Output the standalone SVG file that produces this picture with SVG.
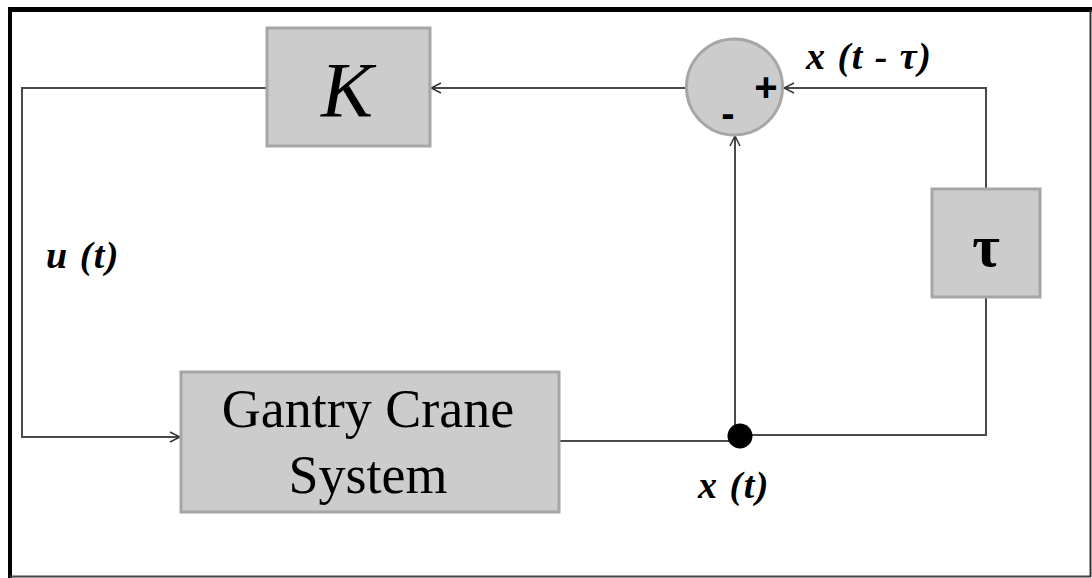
<svg xmlns="http://www.w3.org/2000/svg" width="1092" height="578" viewBox="0 0 1092 578">
<style>
.box{fill:#cccccc;stroke:#a6a6a6;stroke-width:3}
.wire{fill:none;stroke:#4a4a4a;stroke-width:2}
.lbl{font-family:"Liberation Serif",serif;font-style:italic;font-weight:bold;fill:#000;letter-spacing:1.5px}
.ser{font-family:"Liberation Serif",serif;fill:#000}
.sgn{font-family:"Liberation Sans",sans-serif;font-weight:bold;fill:#000}
</style>
<defs>
<marker id="arr" viewBox="0 0 12 12" refX="11" refY="6" markerWidth="12" markerHeight="12" markerUnits="userSpaceOnUse" orient="auto">
<path d="M1,1 L11,6 L1,11" fill="none" stroke="#333" stroke-width="1.5"/>
</marker>
</defs>
<rect x="0" y="0" width="1092" height="578" fill="#fff"/>
<g id="frame">
<rect x="8" y="7" width="1084" height="5" fill="#000"/>
<rect x="8" y="7" width="4" height="571" fill="#000"/>
<line x1="1090.5" y1="10" x2="1090.5" y2="577" stroke="#333" stroke-width="2"/>
<line x1="10" y1="576.5" x2="1091" y2="576.5" stroke="#444" stroke-width="2"/>
</g>
<g id="connectors">
<path class="wire" d="M267,88 H22 V437 H180" marker-end="url(#arr)"/>
<path class="wire" d="M686,88 H431" marker-end="url(#arr)"/>
<path class="wire" d="M986,189 V88 H784" marker-end="url(#arr)"/>
<path class="wire" d="M986,297 V435 H740"/>
<path class="wire" d="M559,441 H735"/>
<path class="wire" d="M735,436 V136" marker-end="url(#arr)"/>
</g>
<g id="node-K">
<rect class="box" x="267" y="28" width="163" height="118"/>
<text class="ser" x="347" y="116" font-size="78" font-style="italic" text-anchor="middle">K</text>
</g>
<g id="node-sum">
<circle cx="734.5" cy="87" r="48" fill="#cccccc" stroke="#a6a6a6" stroke-width="3"/>
<text class="sgn" x="766" y="101" font-size="40" text-anchor="middle">+</text>
<text class="sgn" x="728" y="127" font-size="40" text-anchor="middle">-</text>
</g>
<g id="node-tau">
<rect class="box" x="932" y="189" width="108" height="108"/>
<text class="ser" x="986" y="266" font-size="60" font-weight="bold" text-anchor="middle">τ</text>
</g>
<g id="node-plant">
<rect class="box" x="181" y="372" width="378" height="140"/>
<text class="ser" x="368" y="427" font-size="54" text-anchor="middle">Gantry Crane</text>
<text class="ser" x="368" y="493" font-size="54" text-anchor="middle">System</text>
</g>
<g id="node-junction">
<circle cx="740" cy="436" r="12.5" fill="#000"/>
</g>
<g id="labels">
<text class="lbl" x="806" y="69" font-size="38">x (t - τ)</text>
<text class="lbl" x="46" y="268" font-size="38">u (t)</text>
<text class="lbl" x="698" y="498" font-size="38">x (t)</text>
</g>
</svg>
